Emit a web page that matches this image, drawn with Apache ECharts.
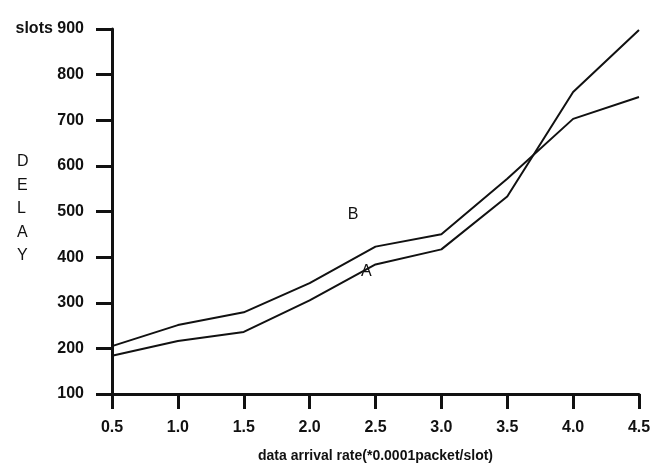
<!DOCTYPE html>
<html>
<head>
<meta charset="utf-8">
<script src="https://cdn.jsdelivr.net/npm/echarts@6/dist/echarts.min.js"></script>
<style>
  html, body { margin: 0; padding: 0; background: #fff; }
  #chart { width: 664px; height: 468px; }
</style>
</head>
<body>
<div id="chart"></div>
<script>
// data
const rates = [0.5, 1.0, 1.5, 2.0, 2.5, 3.0, 3.5, 4.0, 4.5]
const delayA = [184, 216, 236, 305, 384, 417, 533, 762, 898]
const delayB = [205, 251, 279, 343, 423, 450, 572, 703, 751]
const yTicks = [100, 200, 300, 400, 500, 600, 700, 800, 900]

const labelA = [2.43, 369]
const labelB = [2.33, 493]

const font = 'Liberation Sans, Arial, Helvetica, sans-serif'
const ink = '#111'

const chart = echarts.init(document.getElementById('chart'))

const curve = (name, values, pos) => ({
  name: name,
  type: 'line',
  data: rates.map((x, i) => [x, values[i]]),
  symbol: 'none',
  lineStyle: { color: ink, width: 2 },
  markPoint: {
    symbol: 'circle',
    symbolSize: 0,
    data: [{ coord: pos }],
    label: {
      show: true,
      position: 'inside',
      formatter: name,
      color: ink,
      fontFamily: font,
      fontSize: 16
    }
  },
  z: 3
})

const option = {
  animation: false,
  backgroundColor: '#fff',
  grid: { left: 112, right: 25, top: 29, bottom: 73 },
  xAxis: {
    type: 'value',
    min: 0.5,
    max: 4.5,
    interval: 0.5,
    name: 'data arrival rate(*0.0001packet/slot)',
    nameLocation: 'middle',
    nameGap: 55,
    nameTextStyle: { color: ink, fontFamily: font, fontSize: 14, fontWeight: 'bold' },
    axisLine: { onZero: false, lineStyle: { color: ink, width: 3 } },
    axisTick: { length: 15, lineStyle: { color: ink, width: 3 } },
    axisLabel: {
      margin: 26,
      color: ink,
      fontFamily: font,
      fontSize: 16,
      fontWeight: 'bold',
      formatter: v => v.toFixed(1)
    },
    splitLine: { show: false }
  },
  yAxis: {
    type: 'value',
    min: yTicks[0],
    max: yTicks[yTicks.length - 1],
    interval: 100,
    axisLine: { show: true, onZero: false, lineStyle: { color: ink, width: 3 } },
    axisTick: { show: true, length: 16, lineStyle: { color: ink, width: 3 } },
    axisLabel: {
      margin: 28,
      color: ink,
      fontFamily: font,
      fontSize: 16,
      fontWeight: 'bold',
      formatter: v => (v === 900 ? 'slots 900' : String(v))
    },
    splitLine: { show: false }
  },
  graphic: [{
    type: 'text',
    left: 17,
    top: 150,
    style: {
      text: 'D\nE\nL\nA\nY',
      fill: ink,
      font: '16px ' + font,
      lineHeight: 23.5,
      align: 'center'
    }
  }],
  series: [
    curve('A', delayA, labelA),
    curve('B', delayB, labelB)
  ]
}

chart.setOption(option)
</script>
</body>
</html>
